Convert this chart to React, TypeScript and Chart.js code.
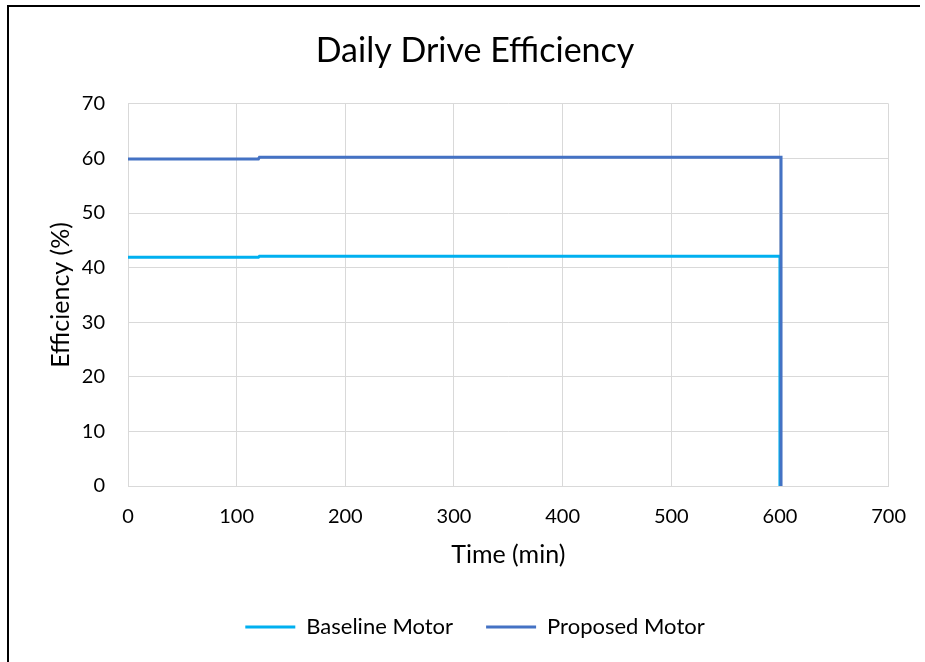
import { useEffect, useRef } from 'react';
import { Chart, registerables } from 'chart.js';

Chart.register(...registerables);

// Minutes of the drive cycle and the efficiency of each motor at those times
const baselineTime = [0, 120, 121, 600, 600];
const baselineEfficiency = [41.9, 41.9, 42.1, 42.1, 0];
const proposedTime = [0, 120, 121, 601, 601];
const proposedEfficiency = [59.9, 59.9, 60.2, 60.2, 0];

const seriesNames = ['Baseline Motor', 'Proposed Motor'];
const seriesColors = ['#00B0F0', '#4472C4'];

const chartTitle = 'Daily Drive Efficiency';
const xAxisTitle = 'Time (min)';
const yAxisTitle = 'Efficiency (%)';

// [min, max, step] of each axis
const xTicks = [0, 700, 100];
const yTicks = [0, 70, 10];

const CANVAS_W = 925;
const CANVAS_H = 662;
const FONT = "Lato, 'Open Sans', sans-serif";
const TEXT = '#000000';
const GRID = '#d9d9d9';

const toPoints = (xs: number[], ys: number[]) => xs.map((x, i) => ({ x, y: ys[i] }));

// Black frame lines along the left and top edges
const framePlugin = {
  id: 'frame',
  afterDraw(chart: Chart) {
    const { ctx } = chart;
    ctx.save();
    ctx.fillStyle = '#000000';
    ctx.fillRect(7, 5, 2, CANVAS_H - 5);
    ctx.fillRect(7, 5, CANVAS_W - 12, 2);
    ctx.restore();
  },
};

export default function App() {
  const canvasRef = useRef<HTMLCanvasElement | null>(null);

  useEffect(() => {
    if (!canvasRef.current) return;
    const chart = new Chart(canvasRef.current, {
      type: 'line',
      data: {
        datasets: [
          {
            label: seriesNames[0],
            data: toPoints(baselineTime, baselineEfficiency),
            borderColor: seriesColors[0],
            backgroundColor: seriesColors[0],
            borderWidth: 3,
            pointRadius: 0,
            tension: 0,
            order: 1,
          },
          {
            label: seriesNames[1],
            data: toPoints(proposedTime, proposedEfficiency),
            borderColor: seriesColors[1],
            backgroundColor: seriesColors[1],
            borderWidth: 3,
            pointRadius: 0,
            tension: 0,
            order: 0,
          },
        ],
      },
      options: {
        responsive: false,
        animation: false,
        devicePixelRatio: 1,
        layout: { padding: { left: 60, right: 35, top: 0, bottom: 14 } },
        plugins: {
          title: {
            display: true,
            text: chartTitle,
            color: TEXT,
            font: { family: FONT, size: 34, weight: 'normal' },
            padding: { top: 31, bottom: 32 },
          },
          legend: {
            display: true,
            position: 'bottom',
            labels: {
              color: TEXT,
              font: { family: FONT, size: 22 },
              boxWidth: 50,
              boxHeight: 3,
              padding: 33,
              generateLabels: (c: Chart) =>
                c.data.datasets.map((ds, i) => ({
                  text: ds.label as string,
                  fillStyle: seriesColors[i],
                  strokeStyle: seriesColors[i],
                  lineWidth: 0,
                  datasetIndex: i,
                  hidden: false,
                  fontColor: TEXT,
                })),
            },
          },
          tooltip: { enabled: false },
        },
        scales: {
          x: {
            type: 'linear',
            position: 'bottom',
            min: xTicks[0],
            max: xTicks[1],
            ticks: {
              stepSize: xTicks[2],
              color: TEXT,
              font: { family: FONT, size: 20 },
              padding: 19,
              maxRotation: 0,
            },
            grid: { color: GRID, lineWidth: 1, drawTicks: false },
            border: { display: true, color: GRID },
            title: {
              display: true,
              text: xAxisTitle,
              color: TEXT,
              font: { family: FONT, size: 25 },
              padding: { top: 0, bottom: 13 },
            },
            afterFit: (s: any) => {
              s.height = 97;
            },
          },
          y: {
            type: 'linear',
            position: 'left',
            min: yTicks[0],
            max: yTicks[1],
            ticks: {
              stepSize: yTicks[2],
              color: TEXT,
              font: { family: FONT, size: 20 },
              padding: 23,
            },
            grid: { color: GRID, lineWidth: 1, drawTicks: false },
            border: { display: true, color: GRID },
            title: {
              display: true,
              text: yAxisTitle,
              color: TEXT,
              font: { family: FONT, size: 25 },
              // the title sits out in the left margin, beyond the axis box
              padding: { top: -14, bottom: 0 },
            },
            afterFit: (s: any) => {
              s.width = 68;
            },
          },
        },
      },
      plugins: [framePlugin],
    });
    return () => chart.destroy();
  }, []);

  return (
    <div
      style={{
        position: 'absolute',
        left: 0,
        top: 0,
        width: CANVAS_W,
        height: CANVAS_H,
        overflow: 'hidden',
        background: '#ffffff',
      }}
    >
      <canvas ref={canvasRef} width={CANVAS_W} height={CANVAS_H} style={{ display: 'block' }} />
    </div>
  );
}
